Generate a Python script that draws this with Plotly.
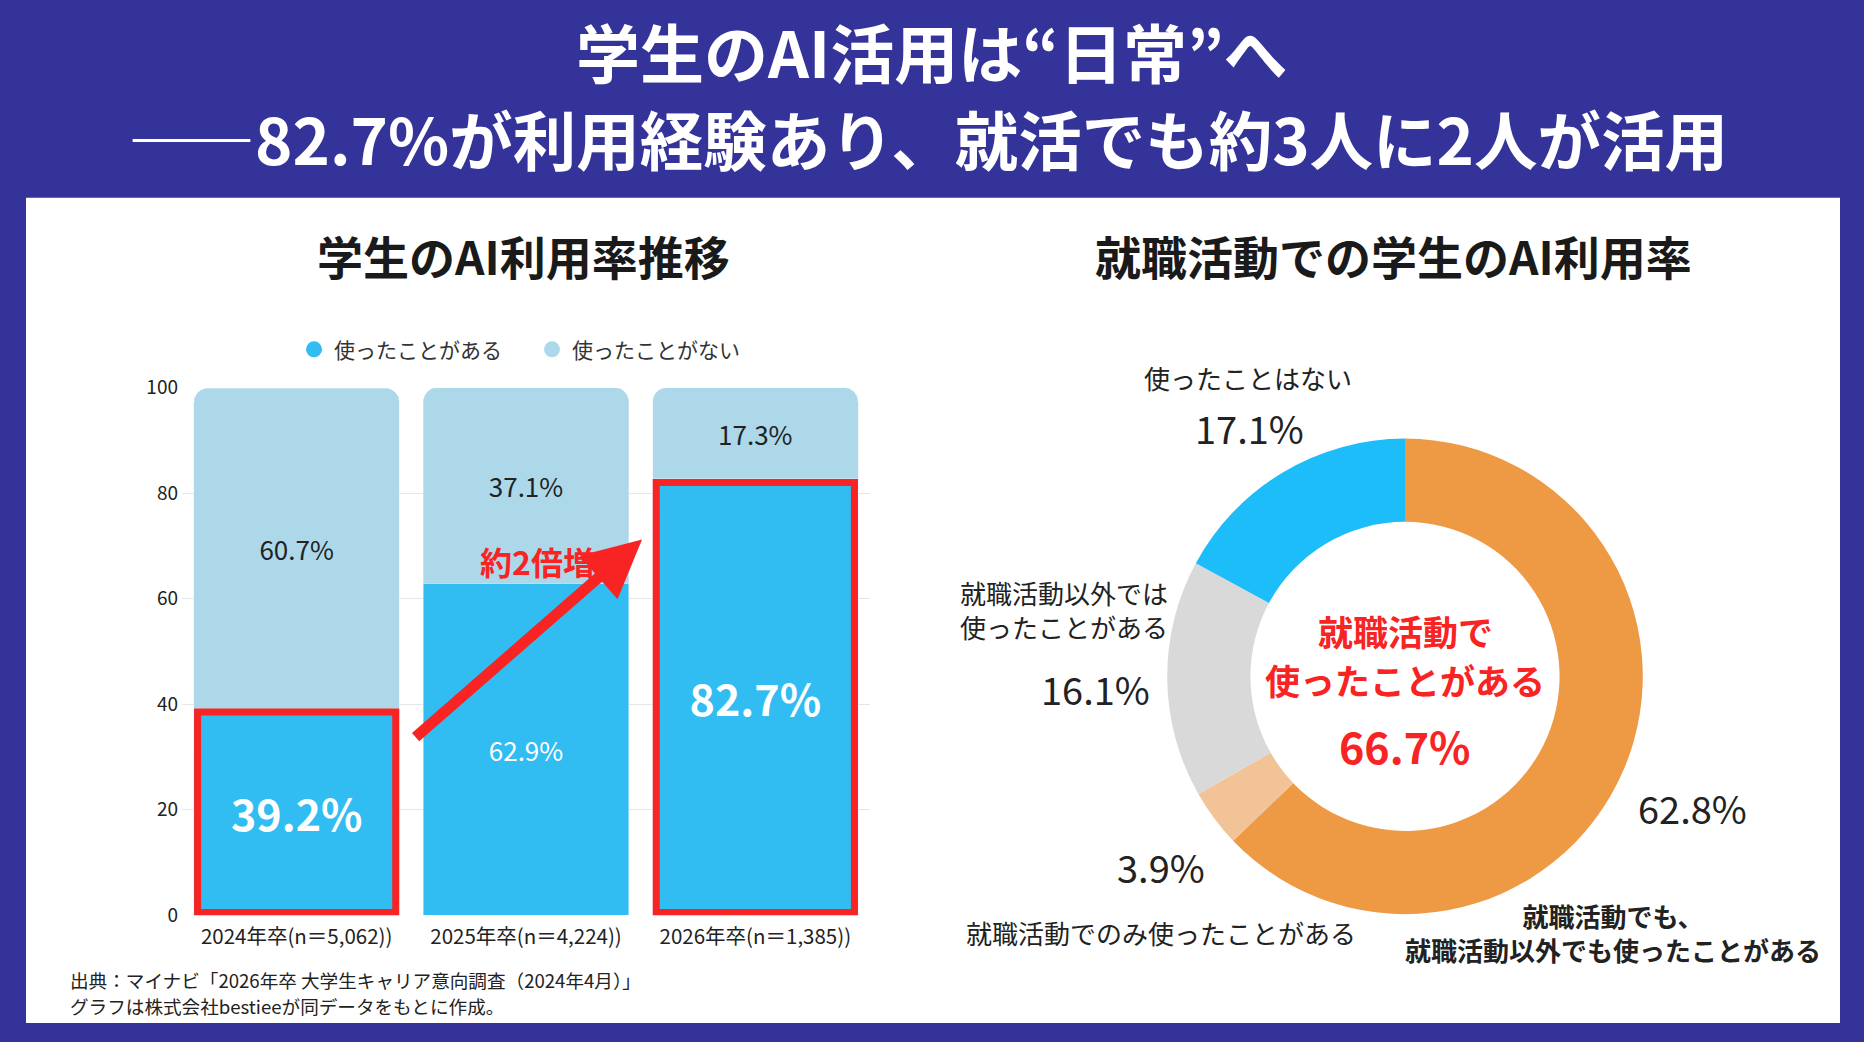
import plotly.graph_objects as go

# --- data ---
grad_years = ["2024年卒(n＝5,062))", "2025年卒(n＝4,224))", "2026年卒(n＝1,385))"]
used_ai = [39.2, 62.9, 82.7]
never_used = [60.7, 37.1, 17.3]
highlight = [True, False, True]   # bars with the red box

job_labels = ["就職活動でも、<br>就職活動以外でも使ったことがある",
              "就職活動でのみ使ったことがある",
              "就職活動以外では<br>使ったことがある",
              "使ったことはない"]
job_values = [62.8, 3.9, 16.1, 17.1]
job_colors = ["#EE9943", "#F2C396", "#D9D9D9", "#1CBDF9"]

W, H = 1864, 1042
FONT = "Noto Sans CJK JP"
NAVY = "#343399"
RED = "#F82424"
BLUE = "#31BCF2"
LIGHT = "#ADD8EA"


def px(x):
    return x / W


def py(y):
    # pixel row (from top) -> paper y, with a small correction for how the page gets shot
    return 1 - ((y - 13) / 0.975) / H


fig = go.Figure()

# stacked bars
fig.add_trace(go.Bar(
    x=list(range(3)), y=used_ai, name="使ったことがある", marker_color=BLUE,
    text=[f"{v}%" for v in used_ai], textposition="inside", insidetextanchor="middle",
    textangle=0,
    textfont=dict(family=FONT, color="white",
                  size=[43 if h else 26 for h in highlight],
                  weight=["bold" if h else "normal" for h in highlight]),
    showlegend=False, hoverinfo="skip"))
fig.add_trace(go.Bar(
    x=list(range(3)), y=never_used, name="使ったことがない", marker_color=LIGHT,
    text=[f"{v}%" for v in never_used], textposition="inside", insidetextanchor="middle",
    textangle=0, textfont=dict(family=FONT, color="#222222", size=26),
    showlegend=False, hoverinfo="skip"))

# round legend markers
for name, col in [("使ったことがある", BLUE), ("使ったことがない", LIGHT)]:
    fig.add_trace(go.Scatter(x=[None], y=[None], mode="markers", name=name,
                             marker=dict(color=col, size=21, symbol="circle")))

# donut
fig.add_trace(go.Pie(
    labels=job_labels, values=job_values, hole=0.65, sort=False,
    direction="clockwise", rotation=0, marker=dict(colors=job_colors),
    textinfo="none", showlegend=False, hoverinfo="label+percent",
    domain=dict(x=[px(1405 - 238), px(1405 + 238)], y=[py(675 + 238), py(675 - 238)])))

shapes = [dict(type="rect", xref="paper", yref="paper", x0=px(26), x1=px(1840),
               y0=py(1022), y1=py(196), fillcolor="white", line_width=0, layer="below")]

# red boxes around highlighted "used" segments
half = (1 - 0.104) / 2
for i, v in enumerate(used_ai):
    if highlight[i]:
        shapes.append(dict(type="rect", xref="x", yref="y",
                           x0=i - half + 0.016, x1=i + half - 0.016,
                           y0=0.5, y1=v - 0.7,
                           line=dict(color=RED, width=7), layer="above"))

ann = []


def note(text, x, y, size, color="#222222", **kw):
    d = dict(text=text, x=px(x), y=py(y), xref="paper", yref="paper", showarrow=False,
             xanchor="center", yanchor="middle",
             font=dict(family=FONT, size=size, color=color))
    d.update(kw)
    ann.append(d)


note("<b>学生のAI活用は“日常”へ</b>", 932, 48, 64, "white")
note(f"<b>――{used_ai[-1]}%が利用経験あり、就活でも約3人に2人が活用</b>", 928, 135, 63.5, "white")
note("<b>学生のAI利用率推移</b>", 523, 253, 46, "#1a1a1a")
note("<b>就職活動での学生のAI利用率</b>", 1393, 253, 46, "#1a1a1a")

# arrow between bars
ann.append(dict(x=1.506, y=71.2, ax=0.512, ay=33.5, xref="x", yref="y", axref="x", ayref="y",
                text="", showarrow=True, arrowhead=2, arrowsize=1.05, arrowwidth=11,
                arrowcolor=RED, standoff=0))
ann.append(dict(text="<b>約2倍増</b>", x=1.048, y=67.2, xref="x", yref="y", showarrow=False,
                font=dict(family=FONT, size=32, color=RED)))

# source note
note("出典：マイナビ「2026年卒 大学生キャリア意向調査（2024年4月）」", 68, 978, 18.6,
     xanchor="left")
note("グラフは株式会社bestieeが同データをもとに作成。", 68, 1004, 18.6, xanchor="left")

# donut labels
slice_pos = [  # (label x, label y, pct x, pct y)
    (1613, 931, 1692, 806),
    (1161, 931, 1161, 865),
    (1064, 608, 1095, 687),
    (1248, 376, 1249, 426),
]
for i, (lx, ly, qx, qy) in enumerate(slice_pos):
    txt = f"<b>{job_labels[i]}</b>" if i == 0 else job_labels[i]
    note(txt, lx, ly, 26)
    note(f"{job_values[i]}%", qx, qy, 38)

total_job = round(job_values[0] + job_values[1], 1)
note("<b>就職活動で</b>", 1405, 629, 35, RED)
note("<b>使ったことがある</b>", 1405, 678, 35, RED)
note(f"<b>{total_job}%</b>", 1405, 744, 43, RED)

fig.update_layout(
    width=W, height=H, autosize=False,
    margin=dict(l=0, r=0, t=0, b=0),
    paper_bgcolor=NAVY, plot_bgcolor="rgba(0,0,0,0)",
    font=dict(family=FONT, color="#222222"),
    barmode="stack", bargap=0.104, barcornerradius=14,
    xaxis=dict(domain=[px(182), px(870)], range=[-0.5, 2.5], tickvals=list(range(3)),
               ticktext=grad_years, showgrid=False, zeroline=False, ticklabelstandoff=7,
               tickfont=dict(family=FONT, size=20.5, color="#222222")),
    yaxis=dict(domain=[py(914), py(386)], range=[0, 100], tickvals=[0, 20, 40, 60, 80, 100],
               gridcolor="#E6E6E6", zeroline=False, showline=False, ticklabelstandoff=3,
               tickfont=dict(family=FONT, size=19, color="#222222")),
    legend=dict(orientation="h", x=px(294), xanchor="left", y=py(348), yanchor="middle",
                traceorder="normal", entrywidth=193, entrywidthmode="pixels",
                font=dict(family=FONT, size=21, color="#333333"), bgcolor="rgba(0,0,0,0)",
                itemclick=False),
    shapes=shapes, annotations=ann,
)

fig.write_html("out.html", config={"displayModeBar": False},
               post_script="document.body.style.margin='0';")
